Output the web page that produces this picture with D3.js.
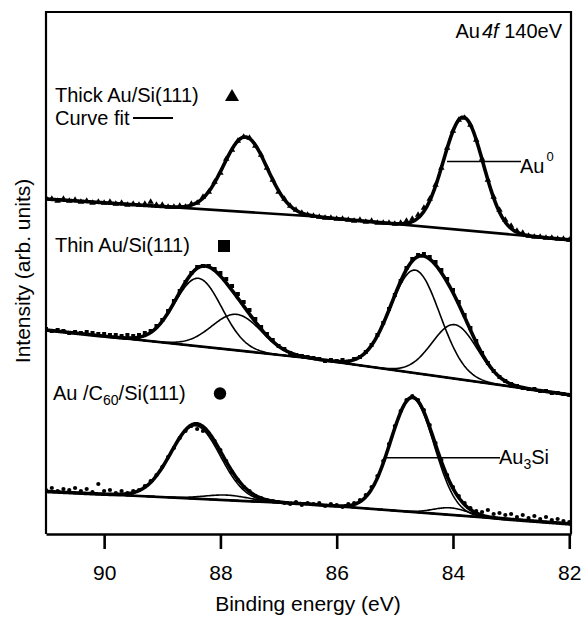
<!DOCTYPE html>
<html>
<head>
<meta charset="utf-8">
<script src="https://cdn.jsdelivr.net/npm/d3@7/dist/d3.min.js"></script>
<style>
  html,body{margin:0;padding:0;background:#fff;}
  svg text{font-family:"Liberation Sans", Arial, Helvetica, sans-serif; fill:#000;}
</style>
</head>
<body>
<svg id="chart" width="583" height="618"></svg>
<script>
// ---------- data ----------
const energyDomain = [91, 81.97];
const intensityDomain = [0, 522];
const xTickValues = [90, 88, 86, 84, 82];

const dataEnergies = [
  91.0,90.9,90.8,90.7,90.6,90.5,90.4,90.3,90.2,90.1,
  90.0,89.9,89.8,89.7,89.6,89.5,89.4,89.3,89.2,89.1,
  89.0,88.9,88.8,88.7,88.6,88.5,88.4,88.3,88.2,88.1,
  88.0,87.9,87.8,87.7,87.6,87.5,87.4,87.3,87.2,87.1,
  87.0,86.9,86.8,86.7,86.6,86.5,86.4,86.3,86.2,86.1,
  86.0,85.9,85.8,85.7,85.6,85.5,85.4,85.3,85.2,85.1,
  85.0,84.9,84.8,84.7,84.6,84.5,84.4,84.3,84.2,84.1,
  84.0,83.9,83.8,83.7,83.6,83.5,83.4,83.3,83.2,83.1,
  83.0,82.9,82.8,82.7,82.6,82.5,82.4,82.3,82.2,82.1,
  82.0
];
// Thick Au/Si(111) (triangles)
const thickData = [
  336,335,333,335,333,334,332,333,331,332,
  331,332,330,331,329,330,329,330,332,329,
  329,327,327,328,327,330,331,337,342,352,
  361,375,384,393,397,396,388,379,366,354,
  342,335,328,324,321,319,318,317,316,316,
  315,315,314,313,314,312,313,311,311,311,
  310,311,313,315,319,326,335,349,366,386,
  403,414,416,409,394,375,354,337,324,314,
  308,303,301,298,297,297,296,296,295,295,
  294
];
// Thin Au/Si(111) (squares)
const thinData = [
  205,203,204,203,201,202,201,202,201,200,
  200,199,199,198,199,198,199,201,203,208,
  214,223,233,243,252,261,267,268,268,265,
  261,255,248,240,232,224,215,207,200,194,
  188,185,181,179,178,177,176,175,173,174,
  173,174,172,175,177,182,189,199,211,225,
  239,253,266,275,279,280,277,272,264,255,
  244,232,219,206,193,181,171,163,157,153,
  150,148,146,145,145,143,143,141,141,140,
  139
];
// Au/C60/Si(111) (circles)
const c60Data = [
  44,46,43,45,44,46,43,45,42,50,
  43,44,41,43,41,43,44,48,53,59,
  67,77,86,96,103,108,105,103,100,93,
  84,73,62,54,47,43,38,36,34,33,
  32,31,30,32,29,31,30,31,28,30,
  29,27,30,31,34,39,47,58,73,90,
  108,123,134,138,134,124,109,91,74,59,
  47,38,31,26,23,22,24,20,21,19,
  20,17,19,16,18,15,17,14,15,13,
  12
];

// backgrounds: [energy eV, intensity]
const thickBackground = [[91, 335], [86.5, 318], [81.97, 294]];
const thinBackground  = [[91, 204], [86.5, 176], [81.97, 139]];
const c60Background   = [[91, 42.5], [86.5, 30], [81.97, 10]];

// fitted components: [centre eV, height, FWHM eV]
const thickComponents = [[87.57, 75, 0.88], [83.82, 113, 0.80]];
const thinComponents  = [[88.38, 68, 0.95], [87.72, 36, 1.0], [84.65, 103, 1.0], [83.97, 54, 0.92]];
const c60Components   = [[88.43, 73, 1.0], [87.89, 5, 0.9], [84.70, 114, 0.88], [84.04, 7, 0.7]];

// ---------- chart ----------
const svg = d3.select("#chart");
const m = {left: 46, right: 571, top: 12, bottom: 534};
const x = d3.scaleLinear().domain(energyDomain).range([m.left, m.right]);
const y = d3.scaleLinear().domain(intensityDomain).range([m.bottom, m.top]);

svg.append("clipPath").attr("id", "clip")
  .append("rect").attr("x", m.left).attr("y", m.top)
  .attr("width", m.right - m.left).attr("height", m.bottom - m.top);

const plot = svg.append("g").attr("clip-path", "url(#clip)");

function gauss(E, c) {
  const d = E - c[0];
  return c[1] * Math.exp(-4 * Math.LN2 * d * d / (c[2] * c[2]));
}
const fineE = d3.range(energyDomain[0], energyDomain[1], -0.02).concat([energyDomain[1]]);
const line = d3.line().x(d => x(d[0])).y(d => y(d[1]));

function drawSpectrum(bg, comps, showComps, data, marker, markerSize) {
  const bgScale = d3.scaleLinear().domain(bg.map(d => d[0])).range(bg.map(d => d[1]));
  plot.append("path").attr("d", line(bg))
    .attr("fill", "none").attr("stroke", "#000").attr("stroke-width", 2.7);
  if (showComps) {
    comps.forEach(c => {
      plot.append("path")
        .attr("d", line(fineE.map(E => [E, bgScale(E) + gauss(E, c)])))
        .attr("fill", "none").attr("stroke", "#000").attr("stroke-width", 1.6);
    });
  }
  plot.append("path")
    .attr("d", line(fineE.map(E => [E, bgScale(E) + d3.sum(comps, c => gauss(E, c))])))
    .attr("fill", "none").attr("stroke", "#000").attr("stroke-width", 3.6)
    .attr("stroke-linejoin", "round");
  const sym = d3.symbol().type(marker).size(markerSize);
  plot.append("g").selectAll("path").data(data).join("path")
    .attr("transform", (d, i) => `translate(${x(dataEnergies[i])},${y(d)})`)
    .attr("d", sym).attr("fill", "#000");
}

drawSpectrum(thickBackground, thickComponents, false, thickData, d3.symbolTriangle, 18);
drawSpectrum(thinBackground, thinComponents, true, thinData, d3.symbolSquare, 16);
drawSpectrum(c60Background, c60Components, true, c60Data, d3.symbolCircle, 14);

// frame
svg.append("path")
  .attr("d", `M${m.left},${m.bottom}V${m.top}H${m.right}V${m.bottom}`)
  .attr("fill", "none").attr("stroke", "#000").attr("stroke-width", 2.2);

// x axis
const xAxis = d3.axisBottom(x).tickValues(xTickValues).tickSize(15).tickSizeOuter(0).tickPadding(16)
  .tickFormat(d3.format("d"));
const gx = svg.append("g").attr("transform", `translate(0,${m.bottom})`).call(xAxis);
gx.select(".domain").attr("stroke-width", 2.6);
gx.selectAll(".tick line").attr("stroke-width", 2.6);
gx.selectAll(".tick text").attr("font-size", 21).attr("font-family", "Liberation Sans, Arial, sans-serif");

// axis titles
svg.append("text").attr("x", 308).attr("y", 611).attr("text-anchor", "middle")
  .attr("font-size", 21).text("Binding energy (eV)");
svg.append("text").attr("transform", "translate(30,271) rotate(-90)").attr("text-anchor", "middle")
  .attr("font-size", 21).text("Intensity (arb. units)");

// annotations
const t1 = svg.append("text").attr("x", 562).attr("y", 38).attr("text-anchor", "end").attr("font-size", 20);
t1.append("tspan").text("Au");
t1.append("tspan").attr("font-style", "italic").attr("dx", 2).text("4f");
t1.append("tspan").text(" 140eV");

svg.append("text").attr("x", 55).attr("y", 102).attr("font-size", 20).text("Thick Au/Si(111)");
svg.append("path").attr("d", d3.symbol().type(d3.symbolTriangle).size(85)())
  .attr("transform", "translate(232,97)").attr("fill", "#000");
svg.append("text").attr("x", 55).attr("y", 125).attr("font-size", 20).text("Curve fit");
svg.append("line").attr("x1", 133).attr("x2", 173).attr("y1", 118).attr("y2", 118)
  .attr("stroke", "#000").attr("stroke-width", 2.2);

svg.append("text").attr("x", 55).attr("y", 252).attr("font-size", 20).text("Thin Au/Si(111)");
svg.append("rect").attr("x", 218).attr("y", 240).attr("width", 12).attr("height", 12).attr("fill", "#000");

const t3 = svg.append("text").attr("x", 53).attr("y", 400).attr("font-size", 20);
t3.append("tspan").text("Au /C");
t3.append("tspan").attr("font-size", 14).attr("dy", 5).text("60");
t3.append("tspan").attr("dy", -5).text("/Si(111)");
svg.append("circle").attr("cx", 220).attr("cy", 393.5).attr("r", 6.2).attr("fill", "#000");

// peak labels
svg.append("line").attr("x1", 447).attr("x2", 521).attr("y1", 161.5).attr("y2", 161.5)
  .attr("stroke", "#000").attr("stroke-width", 1.5);
const t4 = svg.append("text").attr("x", 520).attr("y", 173).attr("font-size", 20);
t4.append("tspan").text("Au");
t4.append("tspan").attr("font-size", 13).attr("dy", -12).attr("dx", 2).text("0");

svg.append("line").attr("x1", 386).attr("x2", 500).attr("y1", 457.7).attr("y2", 457.7)
  .attr("stroke", "#000").attr("stroke-width", 1.5);
const t5 = svg.append("text").attr("x", 499).attr("y", 464).attr("font-size", 20);
t5.append("tspan").text("Au");
t5.append("tspan").attr("font-size", 14).attr("dy", 5).text("3");
t5.append("tspan").attr("dy", -5).text("Si");
</script>
</body>
</html>
